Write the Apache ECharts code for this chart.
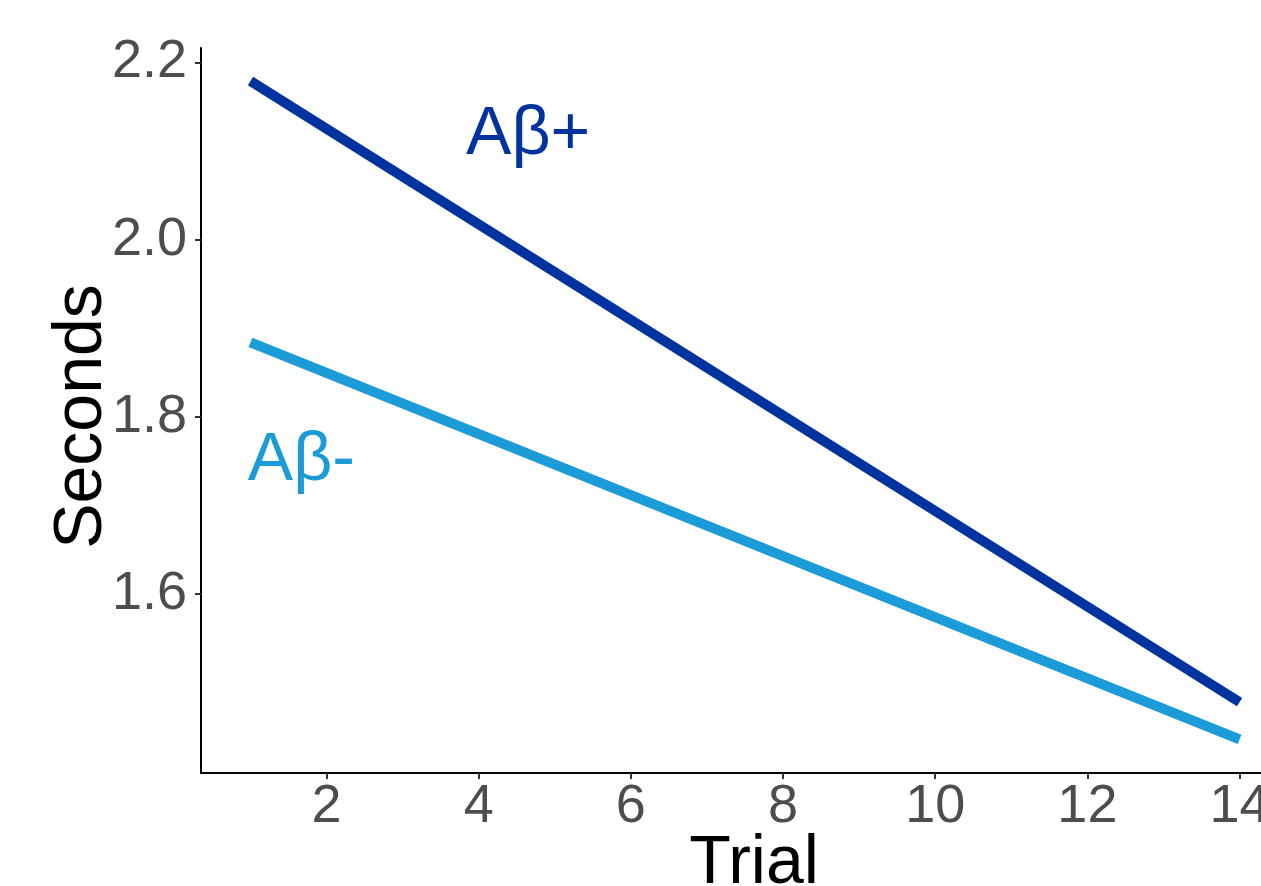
<!DOCTYPE html>
<html><head><meta charset="utf-8">
<script src="https://cdn.jsdelivr.net/npm/echarts@6/dist/echarts.min.js"></script>
<style>html,body{margin:0;padding:0;background:#fff}#c{width:1261px;height:886px}</style>
</head><body><div id="c"></div>
<script>
const trials = [1, 14];
const abPlus = [2.179, 1.478];
const abMinus = [1.884, 1.436];
const xTicks = [2, 4, 6, 8, 10, 12, 14];
const yTicks = [1.6, 1.8, 2.0, 2.2];
const annotX = [4.65, 1.67];
const annotY = [2.118, 1.750];
const annotText = ['Aβ+', 'Aβ-'];
const seriesNames = ['Aβ+', 'Aβ-'];
const colors = ['#0033A0', '#1B9BD7'];

const FONT = '"Liberation Sans", Arial, sans-serif';
const chart = echarts.init(document.getElementById('c'), null, {renderer: 'canvas'});

const lineSeries = [abPlus, abMinus].map((vals, i) => ({
  name: seriesNames[i],
  type: 'line',
  data: trials.map((t, j) => [t, vals[j]]),
  symbol: 'none',
  lineStyle: {color: colors[i], width: 10, cap: 'butt', opacity: 1},
  silent: true,
  z: 3
}));

const annotSeries = {
  type: 'scatter',
  symbolSize: 0,
  itemStyle: {color: '#ffffff', opacity: 1},
  silent: true,
  data: annotText.map((t, i) => ({
    value: [annotX[i], annotY[i]],
    label: {
      show: true, position: 'inside', formatter: t,
      color: colors[i], opacity: 1, fontSize: 68, fontFamily: FONT,
      align: 'center', verticalAlign: 'middle'
    }
  })),
  z: 4
};

chart.setOption({
  animation: false,
  backgroundColor: '#ffffff',
  grid: {left: 201, right: -28, top: 48, bottom: 113, containLabel: false, outerBoundsMode: 'none'},
  xAxis: {
    type: 'value', min: 0.35, max: 14.65,
    name: 'Trial', nameLocation: 'middle', nameGap: 57, nameMoveOverlap: false,
    nameTextStyle: {fontSize: 68, color: '#000', fontFamily: FONT, padding: [0, 0, 0, 18]},
    axisLine: {show: true, lineStyle: {color: '#000', width: 2}},
    axisTick: {show: true, length: 6, lineStyle: {color: '#333', width: 2}, customValues: xTicks},
    axisLabel: {customValues: xTicks, fontSize: 54, color: '#4D4D4D', fontFamily: FONT, margin: 7},
    splitLine: {show: false}
  },
  yAxis: {
    type: 'value', min: 1.398, max: 2.2163,
    name: 'Seconds', nameLocation: 'middle', nameGap: 85, nameRotate: 90, nameMoveOverlap: false,
    nameTextStyle: {fontSize: 68, color: '#000', fontFamily: FONT, padding: [0, 12, 0, 0]},
    axisLine: {show: true, lineStyle: {color: '#000', width: 2}},
    axisTick: {show: true, length: 6, lineStyle: {color: '#333', width: 2}, customValues: yTicks},
    axisLabel: {customValues: yTicks, fontSize: 54, color: '#4D4D4D', fontFamily: FONT, margin: 14,
      padding: [4, 0, 0, 0],
      formatter: v => Number(v).toFixed(1)},
    splitLine: {show: false}
  },
  series: [...lineSeries, annotSeries]
});
</script></body></html>
